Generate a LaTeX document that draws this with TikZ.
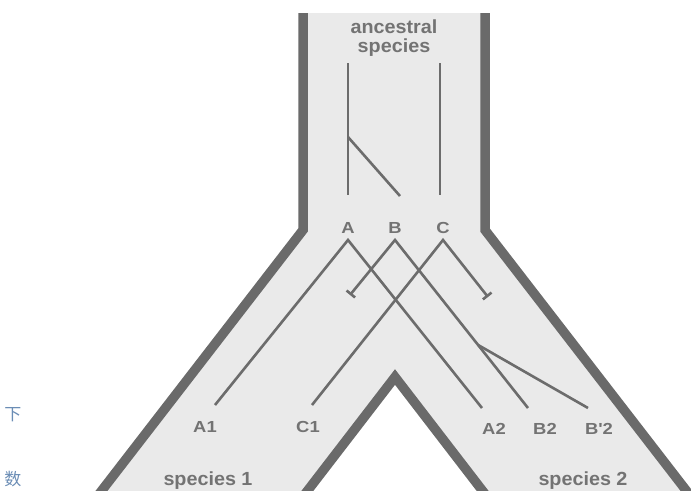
\documentclass[tikz,border=0pt]{standalone}
\usepackage{fontspec}
\setmainfont{Liberation Sans}
\newfontfamily\labfont[FakeStretch=1.15]{Liberation Sans}
\newfontfamily\ancfont[FakeStretch=1.04]{Liberation Sans}
\newfontfamily\cjkfont{Noto Sans CJK SC}
\usetikzlibrary{arrows.meta,calc}
\definecolor{fillc}{HTML}{EAEAEA}
\definecolor{wallc}{HTML}{6A6A6A}
\definecolor{linec}{HTML}{6C6C6C}
\definecolor{textc}{HTML}{737373}
\definecolor{cjkc}{HTML}{6B8DB5}
\begin{document}
\begin{tikzpicture}[x=1pt,y=-1pt,
  wall/.style={line width=9.5pt, draw=wallc, line join=miter},
  gene/.style={line width=2.6pt, draw=linec, line join=miter},
  barstart/.style={gene, {Bar[width=11pt,line width=2.6pt]}-},
  barend/.style={gene, -{Bar[width=11pt,line width=2.6pt]}},
  lab/.style={text=textc, font=\labfont\bfseries\fontsize{16}{18}\selectfont, anchor=base, inner sep=0pt},
  big/.style={text=textc, font=\ancfont\bfseries\fontsize{19}{20}\selectfont, anchor=base, inner sep=0pt},
  cjk/.style={text=cjkc, inner sep=0pt, font=\cjkfont\fontsize{17}{17}\selectfont}]
\useasboundingbox (0,0) rectangle (691,496);
% channel
\begin{scope}
\clip (0,13) rectangle (691,490);
\fill[fillc] (303,0) -- (485,0) -- (485,230) -- (709,520) -- (505,520) -- (395,377) -- (285,520) -- (79,520) -- (303,230) -- cycle;
\draw[wall] (303,-10) -- (303,230) -- (79,520);
\draw[wall] (485,-10) -- (485,230) -- (709,520);
\draw[wall] (285,520) -- (395,377) -- (505,520);
\end{scope}
% labels
\node[big] (anc) at (394,33) {ancestral};
\node[big] (spc) at (394,52) {species};
\node[lab] (A) at (348,233) {A};
\node[lab] (B) at (395,233) {B};
\node[lab] (C) at (443,233) {C};
\node[lab] (A1) at (205,432) {A1};
\node[lab] (C1) at (308,432) {C1};
\node[lab] (A2) at (494,434) {A2};
\node[lab] (B2) at (545,434) {B2};
\node[lab] (Bq2) at (599,434) {B'2};
\node[big] (sp1) at (208,485) {species 1};
\node[big] (sp2) at (583,485) {species 2};
% ancestral gene tree
\coordinate (a0) at (348,63);
\coordinate (a1) at (348,195);
\coordinate (ab) at (348,137);
\coordinate (b0) at (400,196);
\coordinate (c0) at (440,63);
\coordinate (c1) at (440,195);
\draw[gene] (a0) -- (a1);
\draw[gene] (ab) -- (b0);
\draw[gene] (c0) -- (c1);
% descendant gene trees
\coordinate (Ap) at (348,240);
\coordinate (Bp) at (395,240);
\coordinate (Cp) at (443,240);
\coordinate (A1e) at (215,405);
\coordinate (A2e) at (482,408);
\coordinate (Bt) at (350,295);
\coordinate (B2e) at (528,408);
\coordinate (C1e) at (312,405);
\coordinate (Ct) at (488,297);
\coordinate (Bs) at ($(Bp)!0.625!(B2e)$);
\coordinate (Bq2e) at (588,408);
\draw[gene] (A1e) -- (Ap) -- (A2e);
\draw[barstart] (Bt) -- (Bp) -- (B2e);
\draw[barend] (C1e) -- (Cp) -- (Ct);
\draw[gene] (Bs) -- (Bq2e);
% characters at the left edge
\node[cjk] (x1) at (13,415) {下};
\node[cjk] (x2) at (13,479) {数};
\end{tikzpicture}
\end{document}
